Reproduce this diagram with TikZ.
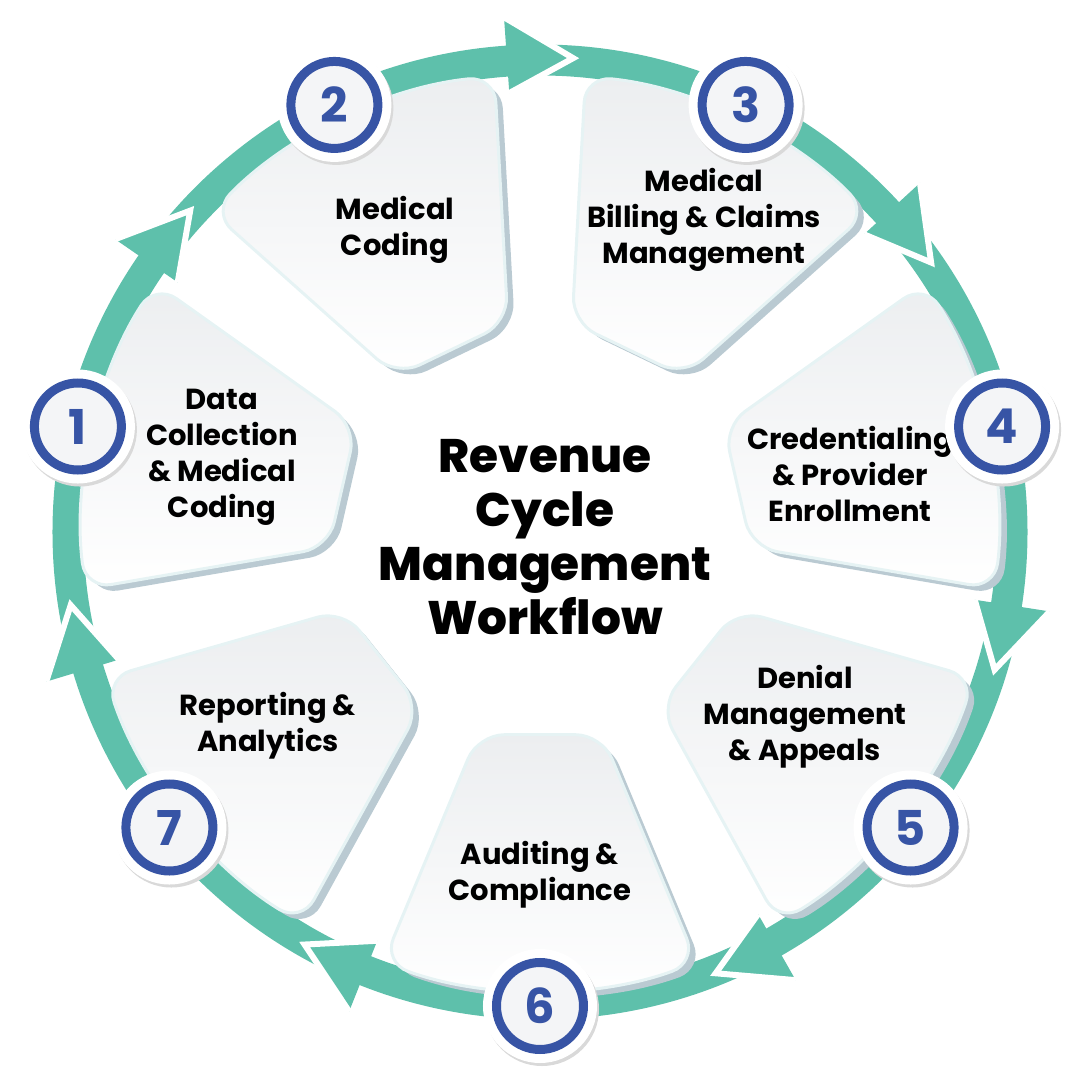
\documentclass[tikz,border=0pt]{standalone}
\usepackage{fontspec}
\setmainfont{Poppins}
\newfontfamily\titlefont{Poppins ExtraBold}
\usepackage{tikz}
\usetikzlibrary{shadows}
\usepackage{xcolor}
\definecolor{ringteal}{RGB}{94,192,171}
\definecolor{numblue}{RGB}{55,84,165}
\definecolor{tileshade}{RGB}{186,202,210}
\definecolor{tilegray}{RGB}{236,238,240}
\definecolor{tileedge}{RGB}{230,243,244}
\definecolor{badgefill}{RGB}{244,245,247}

\begin{document}
\begin{tikzpicture}[
    x=0.5pt, y=0.5pt,
    tile/.style={draw=tileedge, line width=1.5pt, rounded corners=13pt, top color=tilegray, bottom color=white,
        drop shadow={shadow xshift=3.5pt, shadow yshift=-3pt, fill=tileshade, opacity=1}},
    tiletext/.style={align=center, font=\fontsize{14.5}{18}\selectfont\bfseries, text=black},
    numbadge/.style={circle, minimum size=43.5pt, inner sep=0pt, draw=numblue, line width=4.5pt, fill=badgefill,
        text=numblue, font=\fontsize{24}{24}\selectfont\bfseries,
        preaction={draw=black!15, line width=13.5pt, transform canvas={shift={(1pt,-1.5pt)}}},
        preaction={draw=white, line width=13.5pt}},
    tip/.style={fill=ringteal},
    tipedge/.style={draw=white, line width=3pt, line join=miter}
]
\useasboundingbox (-540,-548) rectangle (540,532);

% ========== RING ==========
\draw[ringteal, line width=15.5pt] (0,0) circle[radius=472];

% arrow heads (clockwise)
\fill[tip] (86:475) -- (94:516) -- (94:440) -- cycle;
\draw[tipedge] (94:516) -- (86:475) -- (94:440);
\fill[tip] (34.57:475) -- (42.57:516) -- (42.57:440) -- cycle;
\draw[tipedge] (42.57:516) -- (34.57:475) -- (42.57:440);
\fill[tip] (-16.86:475) -- (-8.86:516) -- (-8.86:440) -- cycle;
\draw[tipedge] (-8.86:516) -- (-16.86:475) -- (-8.86:440);
\fill[tip] (-68.29:475) -- (-60.29:516) -- (-60.29:440) -- cycle;
\draw[tipedge] (-60.29:516) -- (-68.29:475) -- (-60.29:440);
\fill[tip] (-119.71:475) -- (-111.71:516) -- (-111.71:440) -- cycle;
\draw[tipedge] (-111.71:516) -- (-119.71:475) -- (-111.71:440);
\fill[tip] (-171.14:475) -- (-163.14:516) -- (-163.14:440) -- cycle;
\draw[tipedge] (-163.14:516) -- (-171.14:475) -- (-163.14:440);
\fill[tip] (137.43:475) -- (145.43:516) -- (145.43:440) -- cycle;
\draw[tipedge] (145.43:516) -- (137.43:475) -- (145.43:440);

% ========== TILES ==========
\path[tile] (184.14:212) -- (187.14:458) arc[start angle=187.14, end angle=147.14, radius=458] -- (150.14:212) -- cycle;
\path[tile] (132.71:212) -- (135.71:458) arc[start angle=135.71, end angle=95.71, radius=458] -- (98.71:212) -- cycle;
\path[tile] (81.29:212) -- (84.29:458) arc[start angle=84.29, end angle=44.29, radius=458] -- (47.29:212) -- cycle;
\path[tile] (29.86:212) -- (32.86:458) arc[start angle=32.86, end angle=-7.14, radius=458] -- (-4.14:212) -- cycle;
\path[tile] (-21.57:212) -- (-18.57:458) arc[start angle=-18.57, end angle=-58.57, radius=458] -- (-55.57:212) -- cycle;
\path[tile] (-73:212) -- (-70:458) arc[start angle=-70, end angle=-110, radius=458] -- (-107:212) -- cycle;
\path[tile] (-124.43:212) -- (-121.43:458) arc[start angle=-121.43, end angle=-161.43, radius=458] -- (-158.43:212) -- cycle;

% ========== STEP TEXTS ==========
\node[tiletext] (t1) at (-318,75) {Data\\Collection\\\& Medical\\Coding};
\node[tiletext] (t2) at (-145,302) {Medical\\Coding};
\node[tiletext] (t3) at (164,312) {Medical\\Billing \& Claims\\Management};
\node[tiletext] (t4) at (310,58) {Credentialing\\\& Provider\\Enrollment};
\node[tiletext] (t5) at (265,-185) {Denial\\Management\\\& Appeals};
\node[tiletext] (t6) at (0,-343) {Auditing \&\\Compliance};
\node[tiletext] (t7) at (-272,-194) {Reporting \&\\Analytics};

% ========== NUMBER BADGES ==========
\node[numbadge] (n1) at (167.14:474) {1};
\node[numbadge] (n2) at (115.71:474) {2};
\node[numbadge] (n3) at (64.29:474) {3};
\node[numbadge] (n4) at (12.86:474) {4};
\node[numbadge] (n5) at (-38.57:474) {5};
\node[numbadge] (n6) at (-90:474) {6};
\node[numbadge] (n7) at (-141.43:474) {7};

% ========== TITLE ==========
\node[align=center, font=\titlefont\fontsize{23.5}{27}\selectfont] (title) at (5,-5) {Revenue\\Cycle\\Management\\Workflow};

\end{tikzpicture}
\end{document}
